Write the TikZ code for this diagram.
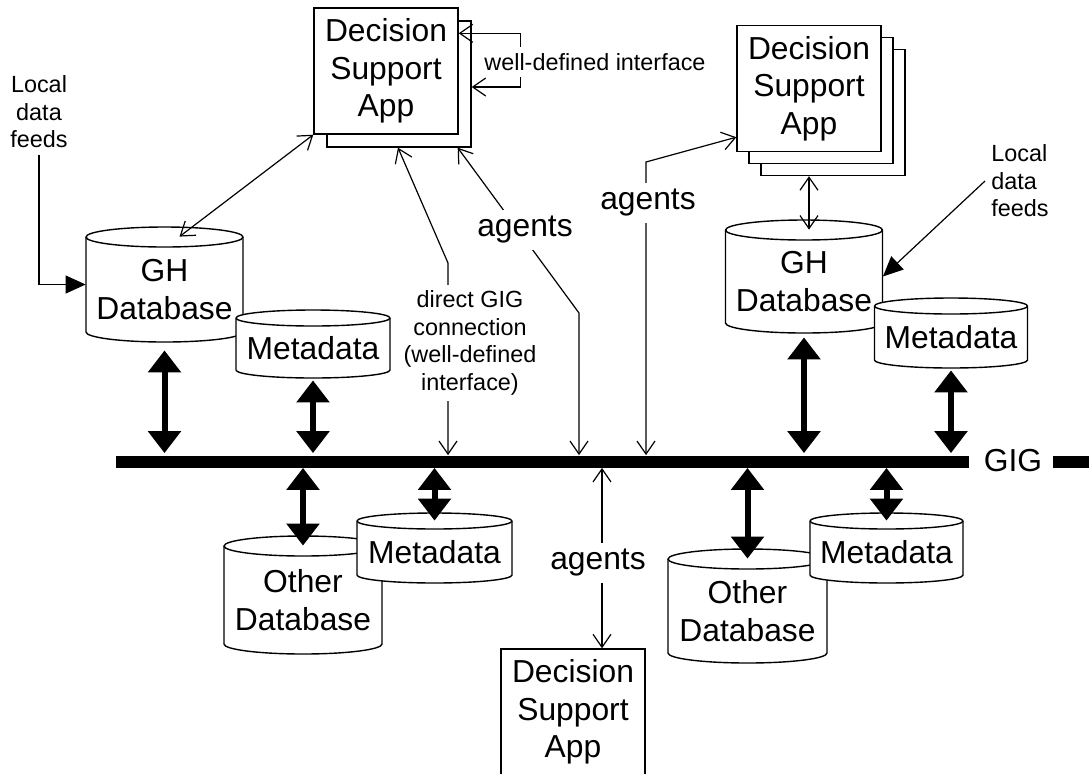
\documentclass[tikz,border=0pt]{standalone}
\usepackage{fontspec}
\setmainfont{Liberation Sans}
\usetikzlibrary{arrows.meta,shadows}

\newcommand{\dsafont}{\fontsize{15.9}{18.8}\selectfont}
\newcommand{\notefont}{\fontsize{11.7}{13.8}\selectfont}

% [ry in pt]{name}{centre x}{top y}{width}{height}{text}
\newcommand{\dbcyl}[7][5]{%
  \path[dbbody] ({#3-#5/2},{#4+2*#1}) -- ({#3-#5/2},{#4+#6-2*#1})
    arc[start angle=180, end angle=360, x radius={#5*0.25pt}, y radius=#1pt]
    -- ({#3+#5/2},{#4+2*#1})
    arc[start angle=0, end angle=180, x radius={#5*0.25pt}, y radius=#1pt] -- cycle;
  \draw[dbline] ({#3-#5/2},{#4+2*#1})
    arc[start angle=180, end angle=360, x radius={#5*0.25pt}, y radius=#1pt];
  \node[dbnode, minimum width={#5*0.5pt}, minimum height={#6*0.5pt}] (#2) at (#3,{#4+#6/2}) {};
  \node[dbtext] (#2-t) at (#3,{#4+#6/2+#1}) {#7};
}

\tikzset{
  dsa/.style={draw, line width=0.7pt, fill=white, minimum width=72pt, minimum height=63pt,
    inner sep=0pt, align=center, font=\dsafont},
  appcopy/.style={shadow xshift=#1, shadow yshift=-#1, draw=black, fill=white, opacity=1, line width=0.7pt},
  dbbody/.style={draw, fill=white, line width=0.7pt},
  dbline/.style={line width=0.7pt},
  dbnode/.style={inner sep=0pt},
  dbtext/.style={align=center, font=\dsafont, inner sep=0pt},
  gigbar/.style={fill=black, inner sep=0pt, minimum height=6pt},
  link/.style={line width=0.6pt, {Straight Barb[length=6.5pt,width=9pt]}-{Straight Barb[length=6.5pt,width=9pt]}},
  fat/.style={line width=3pt, {Triangle[length=11pt,width=16pt]}-{Triangle[length=11pt,width=16pt]}},
  feed/.style={line width=0.6pt, -{Triangle[length=10pt,width=9pt]}},
  tag/.style={font=\dsafont, fill=white, inner sep=3pt},
  note/.style={font=\notefont, align=center, inner sep=3pt},
}

\begin{document}
\begin{tikzpicture}[x=0.5pt, y=-0.5pt]
  \useasboundingbox (0,0) rectangle (1089,773);
  \clip (0,0) rectangle (1089,773);

  \node[dsa, copy shadow={appcopy=6.5pt}] (dsaA) at (386,71) {Decision\\Support\\App};
  \node[dsa, copy shadow={appcopy=12pt}, copy shadow={appcopy=6pt}] (dsaB) at (809,88.5) {Decision\\Support\\App};
  \node[dsa] (dsaC) at (573,712) {Decision\\Support\\App};

  \node[gigbar, minimum width=426.5pt] (gig) at (542.5,461.5) {};
  \node[dbtext] (giglbl) at (1013,461) {GIG};
  \node[gigbar, minimum width=20pt] (gigend) at (1073,461.5) {};

  \dbcyl{ghL}{164.5}{227}{157}{115}{GH\\Database}
  \dbcyl[4]{metaL}{313}{310}{154}{68}{Metadata}
  \dbcyl{ghR}{804}{220}{157}{113}{GH\\Database}
  \dbcyl[4]{metaR}{951}{298}{153}{70}{Metadata}
  \dbcyl{odbL}{303}{536}{158}{118}{Other\\Database}
  \dbcyl[4]{metaBL}{434.5}{513}{155}{70}{Metadata}
  \dbcyl{odbR}{747.5}{549}{159}{114}{Other\\Database}
  \dbcyl[4]{metaBR}{886.5}{513}{153}{70}{Metadata}

  \draw[fat, shorten <=4pt, shorten >=1pt] (ghL.south) -- (ghL.south |- gig.north);
  \draw[fat, shorten <=1pt, shorten >=1pt] (metaL.south) -- (metaL.south |- gig.north);
  \draw[fat, shorten <=2pt, shorten >=1pt] (ghR.south) -- (ghR.south |- gig.north);
  \draw[fat, shorten <=1pt, shorten >=1pt] (metaR.south) -- (metaR.south |- gig.north);
  \draw[fat] (odbL.north |- gig.south) -- ([yshift=-5pt]odbL.north);
  \draw[fat] (metaBL.north |- gig.south) -- ([yshift=-4pt]metaBL.north);
  \draw[fat] (odbR.north |- gig.south) -- ([yshift=-5pt]odbR.north);
  \draw[fat] (metaBR.north |- gig.south) -- ([yshift=-4pt]metaBR.north);

  \draw[link] (dsaA.south west) -- ([xshift=7.5pt,yshift=-5pt]ghL.north);
  \draw[link] ([yshift=-13pt]dsaA.north east) -| ([xshift=31pt,yshift=-8pt]dsaA.east)
    -- ([xshift=6.5pt,yshift=-8pt]dsaA.east);
  \node[note, fill=white] (wdi) at (595,62) {well-defined interface};

  \coordinate (bendA) at (448,263);
  \draw[link] ([xshift=6pt,yshift=-6.5pt]dsaA.south) -- (bendA) -- (bendA |- gig.north);
  \node[note, fill=white] (direct) at (470,343) {direct GIG\\connection\\(well-defined\\interface)};

  \coordinate (bendB) at (579,313);
  \draw[link] ([xshift=-0.5pt,yshift=-6.5pt]dsaA.south east) -- (bendB) -- (bendB |- gig.north);
  \node[tag] (agA) at (525,230) {agents};

  \coordinate (bendC) at (646,162);
  \draw[link] ([yshift=7.5pt]dsaB.south west) -- (bendC) -- (bendC |- gig.north);
  \node[tag] (agB) at (648,203) {agents};

  \coordinate (footC) at ([xshift=14.5pt]dsaC.north);
  \draw[link] (footC |- gig.south) -- (footC);
  \node[tag] (agC) at (598,563) {agents};

  \coordinate (footB) at ([yshift=-12pt]dsaB.south);
  \draw[link, shorten >=-5pt] (footB) -- (footB |- ghR.north);

  \node[note] (feedL) at (39,112) {Local\\data\\feeds};
  \draw[feed] (feedL.south) |- (ghL.west);
  \node[note, anchor=west, align=left] (feedR) at (985,181) {Local\\data\\feeds};
  \draw[feed] (feedR.west) -- (ghR.east);

\end{tikzpicture}
\end{document}
